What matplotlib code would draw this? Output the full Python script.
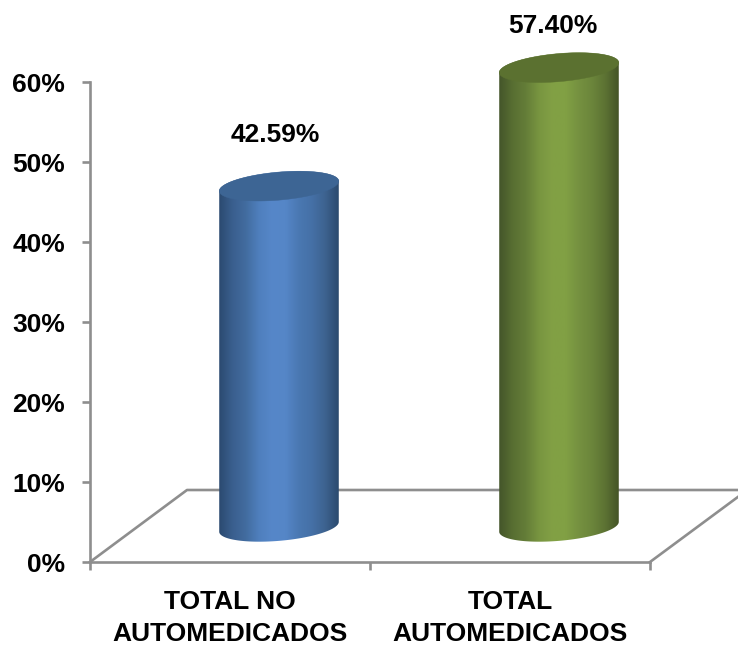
import numpy as np
import matplotlib
matplotlib.use('Agg')
import matplotlib.pyplot as plt
from matplotlib.colors import LinearSegmentedColormap
from matplotlib.patches import Polygon

# Data
categories = ['TOTAL NO\nAUTOMEDICADOS', 'TOTAL\nAUTOMEDICADOS']
values = [42.59, 57.40]
value_labels = ['42.59%', '57.40%']
y_ticks = [0, 10, 20, 30, 40, 50, 60]

W, H = 738, 648
AX_L, AX_R, AX_T, AX_B = 90, 650, 82, 562
PX_X = (AX_R - AX_L) / 2.0  # px per category
PX_Y = (AX_B - AX_T) / 60.0  # px per percent

# fake 3D settings
BASE = 4.4
BAR_SHIFT = 0.175
SEMI_A, SEMI_B = 60.0, 14.0
TILT = np.radians(5.0)
DEPTH_X, DEPTH_Y = 97 / PX_X, 9.0
LABEL_LIFT = [6.4, 5.15]  # label centre above the top of the cylinder
LABEL_SHIFT = [-0.012, -0.023]

GREY = '#8e8e8e'
body_colors = [
    ['#2b4a70', '#3a5f8e', '#426c9f', '#4f7fbd', '#5687c9', '#5586c7', '#4a78b2', '#4570a6', '#3d628f', '#2b4a6e'],
    ['#44552a', '#586e32', '#647d38', '#789540', '#82a045', '#81a044', '#759140', '#6b853b', '#5c7233', '#445426'],
]
top_colors = ['#3d6594', '#5b7130']


def ellipse(cx, cy, t):
    # tilted ellipse, sizes in px turned into data units
    dx = SEMI_A * np.cos(t) * np.cos(TILT) - SEMI_B * np.sin(t) * np.sin(TILT)
    dy = SEMI_A * np.cos(t) * np.sin(TILT) + SEMI_B * np.sin(t) * np.cos(TILT)
    return np.column_stack([cx + dx / PX_X, cy + dy / PX_Y])


def draw_cylinder(fig, ax, cx, value, colors, top_color):
    y0 = BASE
    y1 = BASE + value
    body = np.vstack([
        ellipse(cx, y0, np.linspace(np.pi, 2 * np.pi, 80)),
        ellipse(cx, y1, np.linspace(0, np.pi, 80)),
    ])
    patch = Polygon(body, closed=True, transform=ax.transData, facecolor='none', edgecolor='none')
    ax.add_patch(patch)

    half = SEMI_A / PX_X
    cmap = LinearSegmentedColormap.from_list('body', colors)
    im = ax.imshow(np.linspace(0, 1, 256).reshape(1, -1), cmap=cmap, aspect='auto',
                   extent=[cx - half, cx + half, y0 - 3, y1 + 3], zorder=3, interpolation='bilinear')
    # the green one goes above the 60% line, so don't cut at the axes
    im.set_clip_box(fig.bbox)
    im.set_clip_path(patch)

    top = Polygon(ellipse(cx, y1, np.linspace(0, 2 * np.pi, 160)), closed=True, facecolor=top_color,
                  edgecolor=top_color, linewidth=0.3, zorder=4, clip_on=False)
    ax.add_patch(top)


def main():
    plt.rcParams['font.family'] = ['Liberation Sans', 'DejaVu Sans']
    fig = plt.figure(figsize=(W / 100, H / 100), dpi=100)
    ax = fig.add_axes([AX_L / W, 1 - AX_B / H, (AX_R - AX_L) / W, (AX_B - AX_T) / H])

    # floor of the 3D box
    right_edge = (W - AX_L) / PX_X
    ax.plot([0, DEPTH_X, right_edge], [0, DEPTH_Y, DEPTH_Y], color=GREY, lw=1.9, clip_on=False, zorder=1)
    ax.plot([2, right_edge], [0, (right_edge - 2) * PX_X * 0.74 / PX_Y], color=GREY, lw=1.9,
            clip_on=False, zorder=1)

    for i, (val, txt) in enumerate(zip(values, value_labels)):
        cx = i + 0.5 + BAR_SHIFT
        draw_cylinder(fig, ax, cx, val, body_colors[i], top_colors[i])
        ax.text(cx + LABEL_SHIFT[i], BASE + val + LABEL_LIFT[i], txt, ha='center', va='center',
                fontsize=19, fontweight='bold', color='black', clip_on=False)

    ax.set_xlim(0, 2)
    ax.set_ylim(0, 60)

    ax.set_yticks(y_ticks)
    ax.set_yticklabels([f'{t}%' for t in y_ticks], fontsize=19, fontweight='bold')
    ax.tick_params(axis='y', length=6, width=1.9, color=GREY, pad=12)

    ax.set_xticks([0, 1, 2])
    ax.set_xticklabels([])
    ax.set_xticks([0.5, 1.5], minor=True)
    ax.set_xticklabels(categories, minor=True, fontsize=19, fontweight='bold', linespacing=1.4)
    ax.tick_params(axis='x', which='major', length=6, width=1.9, color=GREY)
    ax.tick_params(axis='x', which='minor', length=0, pad=20.5)

    for side in ['top', 'right']:
        ax.spines[side].set_visible(False)
    for side in ['left', 'bottom']:
        ax.spines[side].set_color(GREY)
        ax.spines[side].set_linewidth(1.9)

    ax.patch.set_visible(False)
    fig.savefig('out.png', dpi=100)


if __name__ == "__main__":
    main()
